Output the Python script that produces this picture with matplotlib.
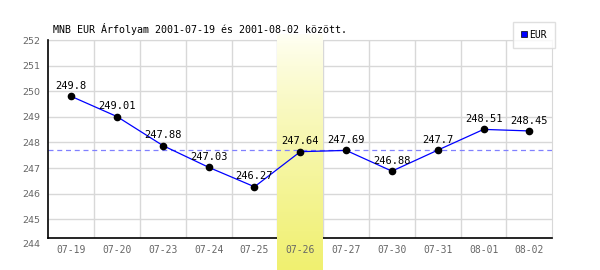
import numpy as np
import matplotlib.pyplot as plt
from matplotlib.patches import Patch
from matplotlib.colors import LinearSegmentedColormap

# daily EUR rates (MNB)
dates = ['07-19', '07-20', '07-23', '07-24', '07-25', '07-26',
         '07-27', '07-30', '07-31', '08-01', '08-02']
rates = [249.8, 249.01, 247.88, 247.03, 246.27, 247.64,
         247.69, 246.88, 247.7, 248.51, 248.45]
yticks = [245, 246, 247, 248, 249, 250, 251, 252]
y_bottom_label = 244
highlight = 5  # index of the highlighted day
ref_line = float(np.median(rates))

mono = 'DejaVu Sans Mono'
gray = '#666666'

fig = plt.figure(figsize=(6, 2.7), dpi=100)
ax = fig.add_axes([48.3/600, 32/270, 504/600, 198/270])

x = np.arange(len(dates))
ylo, yhi = 244.27, 252

# grid drawn by hand so the band can sit over it
ax.hlines(yticks, -0.5, len(dates) - 0.5, colors='#d8d8d8', lw=1, zorder=0.8)
ax.vlines(x[:-1] + 0.5, ylo, yhi, colors='#d8d8d8', lw=1, zorder=0.8)

# yellow gradient band for the selected day, running off the bottom of the figure
grad = np.linspace(0, 1, 256).reshape(-1, 1) ** 0.8
cmap = LinearSegmentedColormap.from_list('band', ['#fffff6', '#f0f070'])
ax.imshow(grad, cmap=cmap, aspect='auto', origin='upper',
          extent=(highlight - 0.5, highlight + 0.5, 243.02, 252.2),
          zorder=1, clip_on=False)
ax.set_xlim(-0.5, len(dates) - 0.5)
ax.set_ylim(ylo, yhi)

ax.axhline(ref_line, color='#8080ff', lw=0.9, ls=(0, (4, 3)), zorder=1.5)
ax.plot(x, rates, color='blue', lw=0.9, zorder=2)
ax.plot(x, rates, 'o', color='black', ms=4.5, zorder=2.2)

for xi, v in zip(x, rates):
    ax.annotate(f'{v:g}', (xi, v), xytext=(0, 7.5), textcoords='offset points',
                ha='center', va='center', fontsize=7.5, family=mono, zorder=3)

for side in ['top', 'right']:
    ax.spines[side].set_color('#d8d8d8')
for side in ['left', 'bottom']:
    ax.spines[side].set_color('black')
    ax.spines[side].set_linewidth(1.2)
for sp in ax.spines.values():
    sp.set_zorder(0.9)
ax.spines['left'].set_zorder(2.5)

ax.set_xticks(x)
ax.set_xticklabels(dates, family=mono, fontsize=7, color=gray)
ax.set_yticks(yticks)
ax.set_yticklabels([str(t) for t in yticks], fontsize=6.8, color=gray)
ax.tick_params(length=0, pad=5)
ax.tick_params(axis='y', pad=6)
ax.xaxis.set_zorder(2.6)
ax.yaxis.set_zorder(2.6)
ax.annotate(str(y_bottom_label), (-0.5, y_bottom_label), xytext=(-6, 0),
            textcoords='offset points', ha='right', va='center',
            fontsize=6.8, color=gray, annotation_clip=False)

fig.text(53/600, 1 - 29/270, 'MNB EUR Árfolyam 2001-07-19 és 2001-08-02 között.',
         family=mono, fontsize=7.2, va='center', ha='left')

fig.legend(handles=[Patch(facecolor='blue', edgecolor='black', lw=0.5, label='EUR')],
           loc='upper right', bbox_to_anchor=(555/600, 1 - 22/270),
           prop={'family': mono, 'size': 7}, frameon=True,
           fancybox=False, edgecolor='#d8d8d8', handlelength=0.6, handleheight=0.6,
           handletextpad=0.3, borderpad=0.8, borderaxespad=0)

fig.savefig('out.png', dpi=100)
